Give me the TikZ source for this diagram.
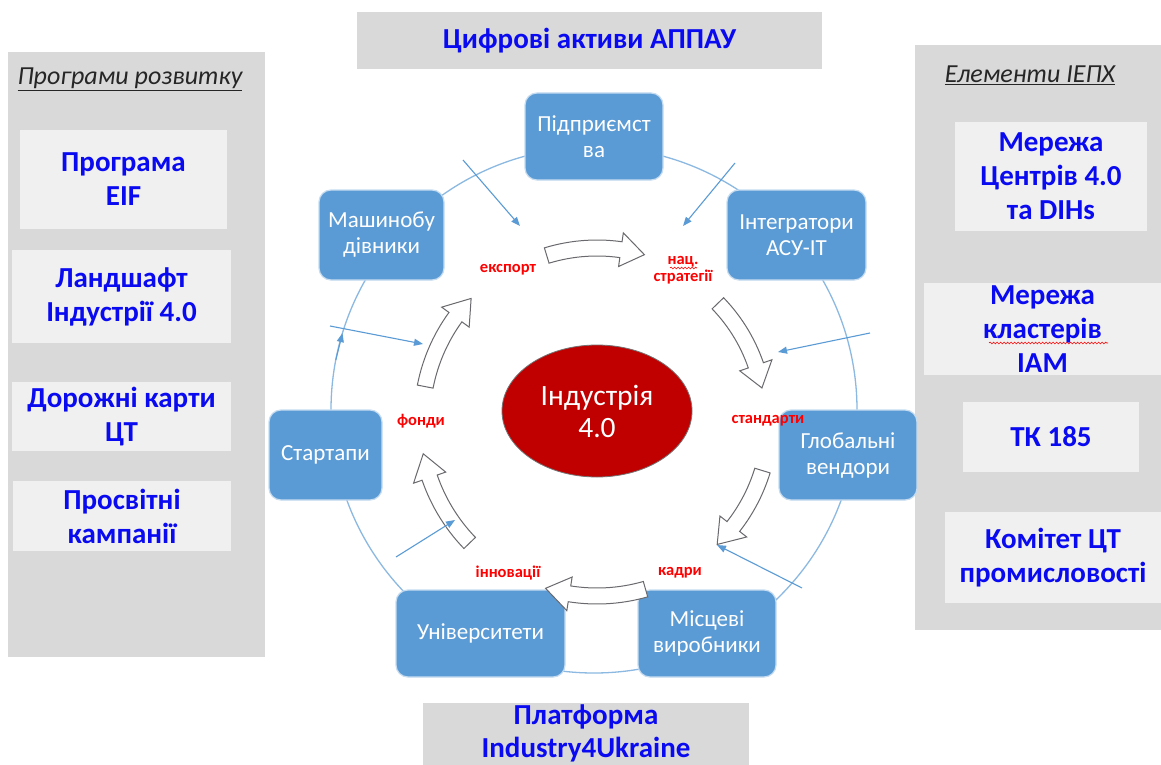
\documentclass[tikz,border=0pt]{standalone}
\usepackage{fontspec}
\setmainfont{Carlito}
\usetikzlibrary{arrows.meta,decorations.pathmorphing,calc,shapes.geometric}
\definecolor{panelgray}{RGB}{217,217,217}
\definecolor{boxgray}{RGB}{240,240,240}
\definecolor{txtblue}{RGB}{10,10,240}
\definecolor{nodeblue}{RGB}{91,155,213}
\definecolor{ringblue}{RGB}{140,185,225}
\definecolor{darkred}{RGB}{192,0,0}
\definecolor{lblred}{RGB}{255,0,0}
\definecolor{arrgray}{RGB}{105,105,110}
\tikzset{
  sz/.style 2 args={minimum width=#1pt, minimum height=#2pt},
  panel/.style={fill=panelgray, draw=none, inner sep=0},
  itembox/.style={fill=boxgray, draw=none, text=txtblue, align=center, inner sep=0,
    font=\fontsize{29}{34}\selectfont\bfseries},
  titlebox/.style={fill=panelgray, draw=none, inner sep=0},
  titletext/.style={text=txtblue, align=center, inner sep=0,
    font=\fontsize{29}{33}\selectfont\bfseries},
  ptitle/.style={text=black!85, inner sep=0, font=\fontsize{26}{29}\selectfont\itshape},
  bnode/.style={rounded corners=12pt, fill=nodeblue, draw=white!65!nodeblue, line width=1.2pt,
    text=white, align=center, inner sep=0, font=\fontsize{23}{26}\selectfont},
  lbl/.style={text=lblred, inner sep=0, align=center, font=\fontsize{16.5}{17}\selectfont\bfseries},
  flowline/.style={draw=nodeblue, line width=1.1pt, -{Triangle[length=9pt,width=7pt]}},
  barrow/.style={fill=white, draw=arrgray, line width=1pt, line join=miter},
  wavy/.style={draw=lblred, line width=0.6pt, decorate,
    decoration={snake, amplitude=0.9pt, segment length=3.5pt}}
}
\newcommand{\blockarr}[3]{%
  \pgfmathsetmacro{\bah}{#3-8}%
  \pgfmathsetmacro{\bro}{#1+8}%
  \pgfmathsetmacro{\bri}{#1-8}%
  \pgfmathsetmacro{\bhro}{#1+17}%
  \pgfmathsetmacro{\bhri}{#1-17}%
  \begin{scope}[shift={(597,420)}]
  \draw[barrow] plot[domain=#2:\bah, samples=16] ({\bro*cos(\x)},{\bro*sin(\x)})
    -- ({\bhro*cos(\bah)},{\bhro*sin(\bah)})
    -- ({#1*cos(#3)},{#1*sin(#3)})
    -- ({\bhri*cos(\bah)},{\bhri*sin(\bah)})
    -- ({\bri*cos(\bah)},{\bri*sin(\bah)})
    -- plot[domain=\bah:#2, samples=16] ({\bri*cos(\x)},{\bri*sin(\x)})
    -- cycle;
  \end{scope}}
\begin{document}
\begin{tikzpicture}[x=1pt,y=-1pt]
\useasboundingbox (0,0) rectangle (1161,765);
\fill[white] (0,0) rectangle (1161,765);

% side panels
\node[panel, sz={257}{605}] (lp) at (136.5,354.5) {};
\node[panel, sz={246}{585}] (rp) at (1038,337.5) {};
\node[ptitle] (lpt) at (130,79) {\underline{Програми розвитку}};
\node[ptitle] (rpt) at (1030,75) {\underline{Елементи ІЕПХ}};

% left items
\node[itembox, sz={207}{99}] (eif) at (123.5,179.5) {Програма\\EIF};
\node[itembox, sz={219}{93}] (land) at (121.5,296.5) {Ландшафт\\Індустрії 4.0};
\node[itembox, sz={219}{69}] (road) at (121.5,416.5) {Дорожні карти\\ЦТ};
\node[itembox, sz={218}{70}] (edu) at (122,516) {Просвітні\\кампанії};

% right items
\node[itembox, sz={192}{109}] (dih) at (1051,176.5) {Мережа\\Центрів 4.0\\та DIHs};
\node[itembox, sz={237}{92}] (iam) at (1042.5,329) {Мережа\\кластерів\\IAM};
\node[itembox, sz={176}{70}] (tk) at (1051,437) {ТК 185};
\node[itembox, sz={216}{91}] (kom) at (1053,557.5) {Комітет ЦТ\\промисловості};
\draw[wavy] (989,343) -- (1108,343);

% top and bottom title boxes
\node[titlebox, sz={465}{57}] (dig) at (589.5,40.5) {};
\node[titletext] (digt) at (dig.center) {Цифрові активи АППАУ};
\node[titlebox, sz={326}{62}] (plat) at (586,734) {};
\node[titletext] (platt) at (586,733) {Платформа\\Industry4Ukraine};

% ring
\node[circle, draw=ringblue, line width=1.3pt, minimum size=526pt, inner sep=0] (ring) at (594,410) {};

% cycle nodes
\node[bnode, sz={138}{87}] (pid) at (594,136.5) {Підприємст\\ва};
\node[bnode, sz={125}{90}] (mash) at (381.5,235) {Машинобу\\дівники};
\node[bnode, sz={139}{90}] (integ) at (796.5,235) {Інтегратори\\АСУ-ІТ};
\node[bnode, sz={113}{90}] (start) at (325.5,455) {Стартапи};
\node[bnode, sz={138}{90}] (glob) at (848,455) {Глобальні\\вендори};
\node[bnode, sz={169}{87}] (univ) at (480.5,633.5) {Університети};
\node[bnode, sz={138}{87}] (misc) at (707,633.5) {Місцеві\\виробники};

% centre
\node[ellipse, fill=darkred, draw=black!55, line width=0.8pt, sz={190}{132}, inner sep=0,
  text=white, align=center, font=\fontsize{29.5}{32}\selectfont] (ind) at (597,411) {Індустрія\\4.0};

% block arrows
\blockarr{172}{-107}{-74}
\blockarr{168}{-44}{-11}
\blockarr{173}{17}{46}
\blockarr{176}{74}{107}
\blockarr{177}{136}{169}
\blockarr{175}{191}{224}

% thin arrows
\coordinate (t1s) at (463,160); \coordinate (t1e) at (520,226);
\coordinate (t2s) at (735,163); \coordinate (t2e) at (683,226);
\coordinate (t3s) at (870,333); \coordinate (t3e) at (778,352);
\coordinate (t4s) at (330,326); \coordinate (t4e) at (423,344);
\coordinate (t5s) at (396,557); \coordinate (t5e) at (455,520);
\coordinate (t6s) at (802,588); \coordinate (t6e) at (717,545);
\draw[flowline] (t1s) -- (t1e);
\draw[flowline] (t2s) -- (t2e);
\draw[flowline] (t3s) -- (t3e);
\draw[flowline] (t4s) -- (t4e);
\draw[flowline] (t5s) -- (t5e);
\draw[flowline] (t6s) -- (t6e);
\coordinate (r1) at ($(ring.center)+(191:263)$);
\coordinate (r2) at ($(ring.center)+(197:263)$);
\draw[flowline] (r1) -- (r2);

% labels
\node[lbl] (l1) at (508,270) {експорт};
\node[lbl] (l2) at (683,270) {нац.\\стратегії};
\draw[wavy] (670,268) -- (697,268);
\node[lbl] (l3) at (421,421) {фонди};
\node[lbl] (l4) at (768,421) {стандарти};
\node[lbl] (l5) at (508,573) {інновації};
\node[lbl] (l6) at (680,573) {кадри};
\end{tikzpicture}
\end{document}
